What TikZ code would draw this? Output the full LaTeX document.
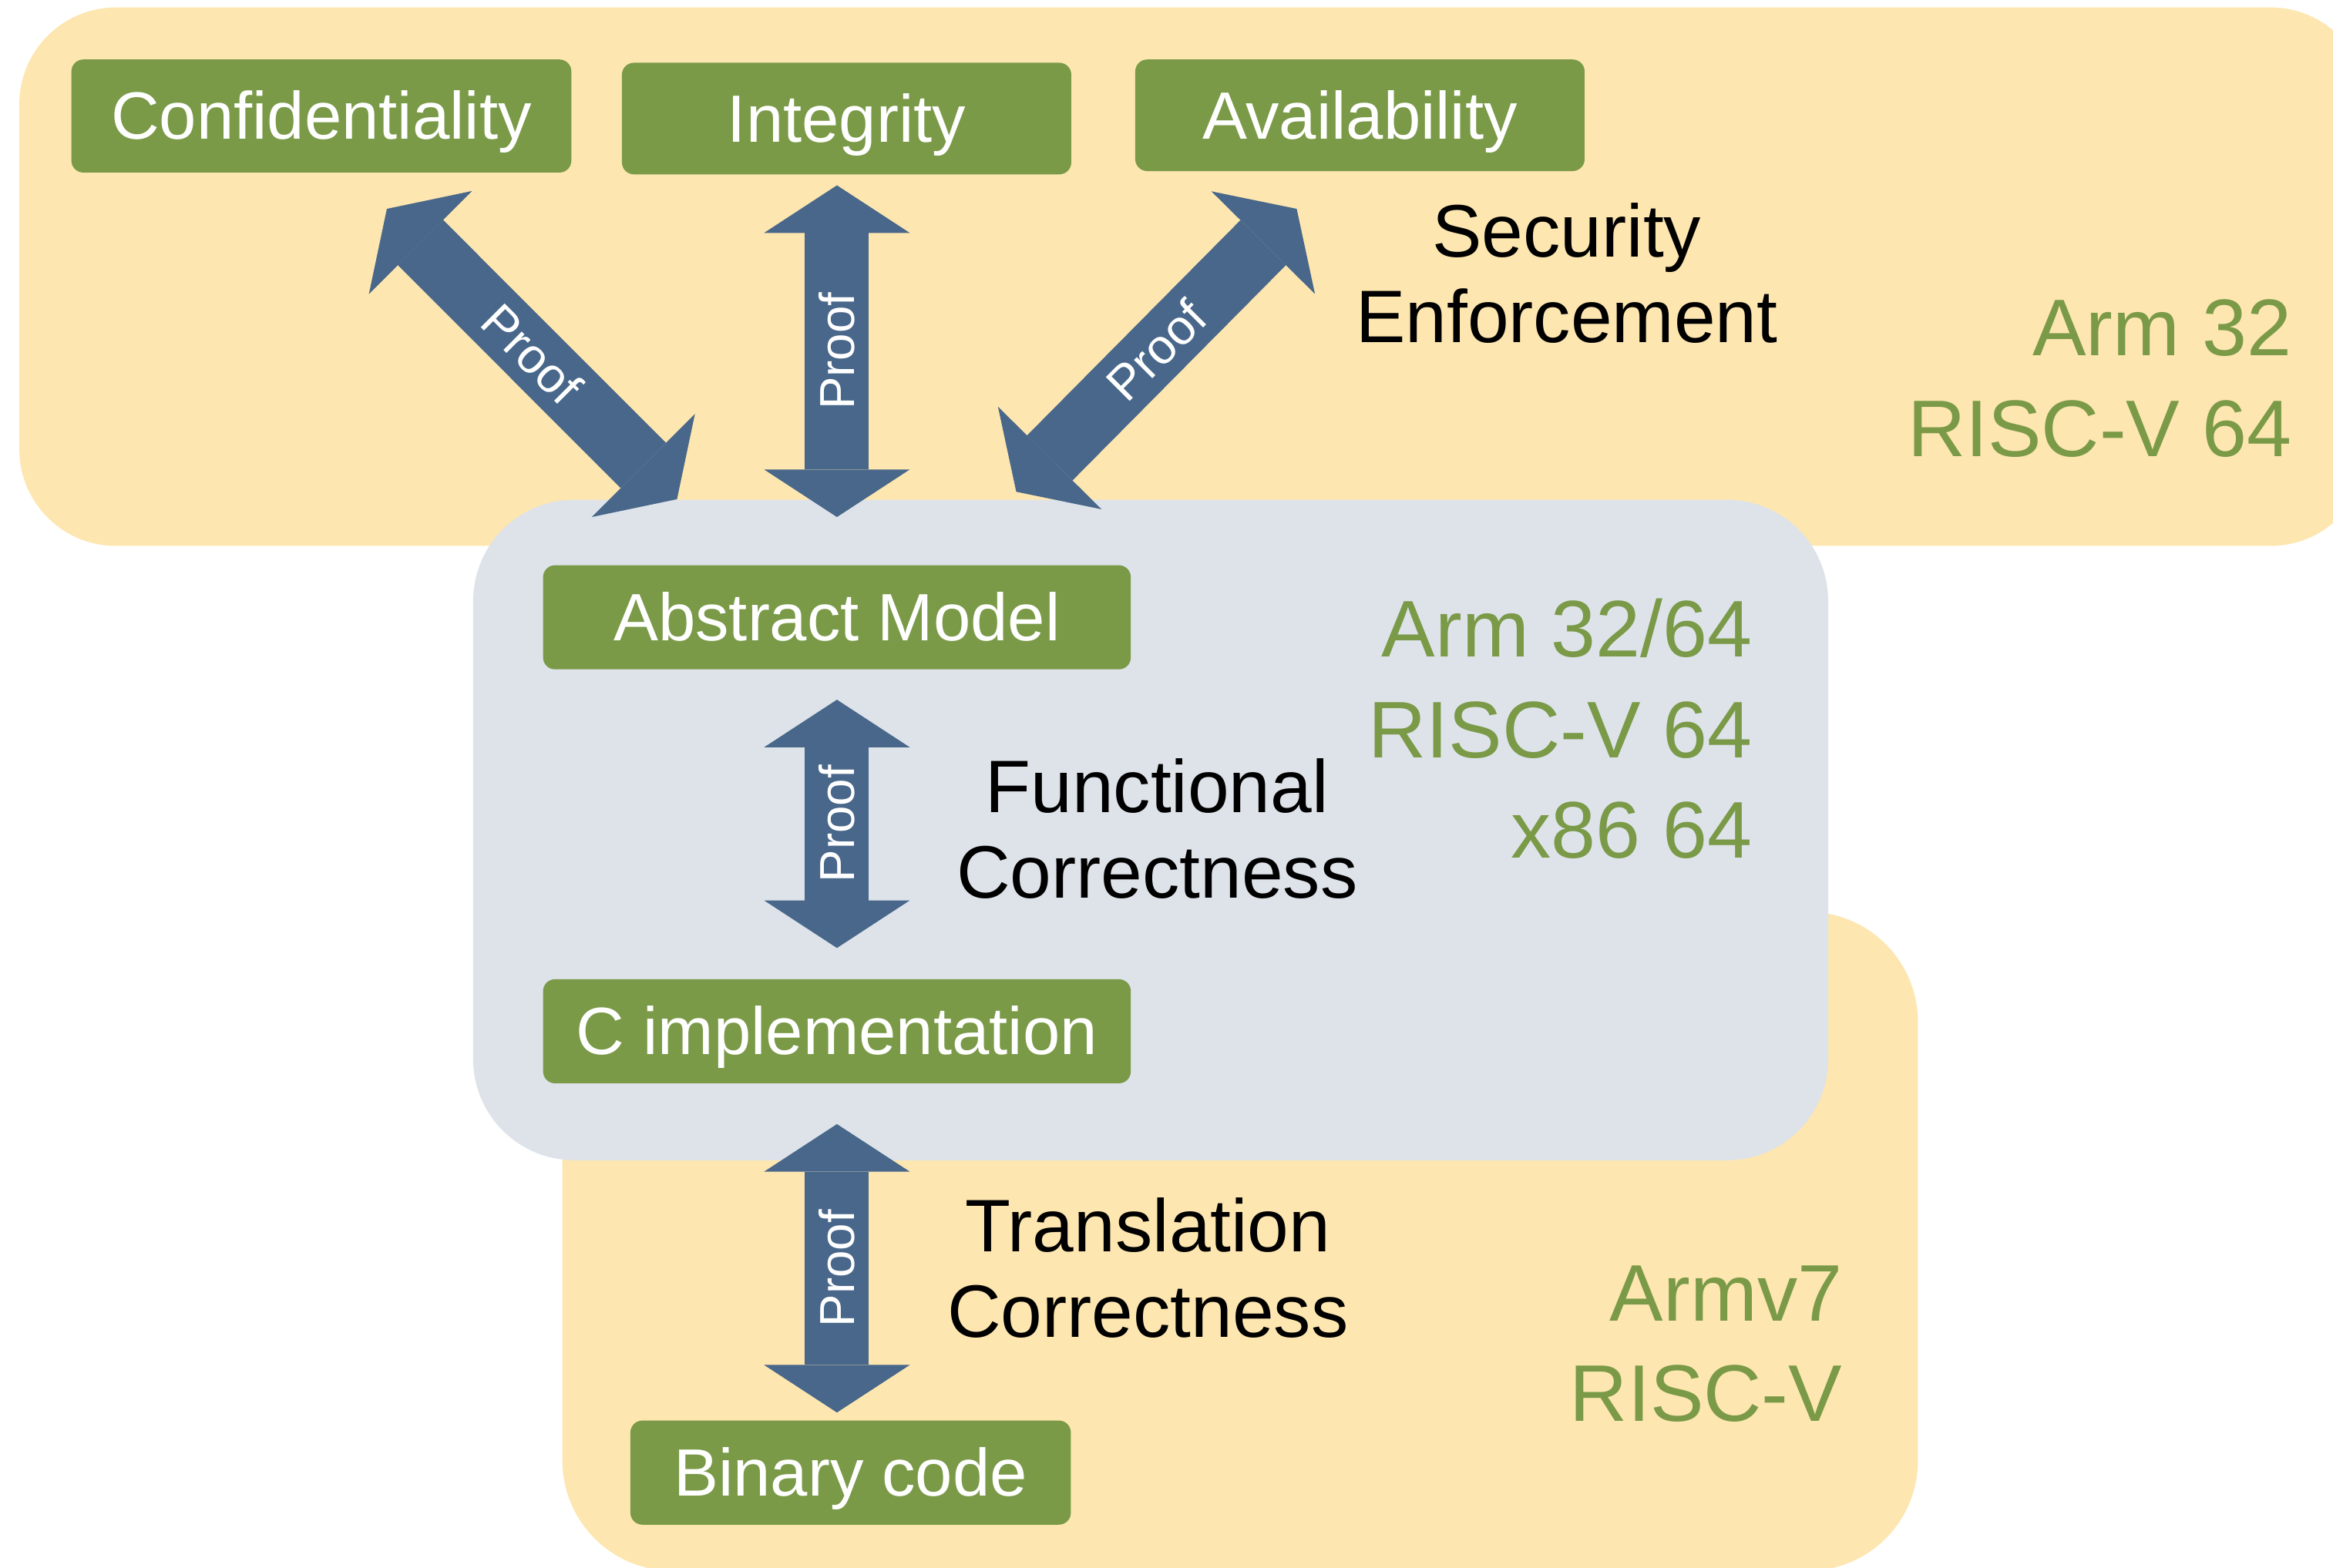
\documentclass[tikz,border=0pt]{standalone}
\usepackage{fontspec}
\setmainfont{Liberation Sans}
\usetikzlibrary{arrows.meta,calc}

\definecolor{regionyellow}{HTML}{FDE6B0}
\definecolor{regiongray}{HTML}{DEE3EA}
\definecolor{boxgreen}{HTML}{7A9A48}
\definecolor{proofblue}{HTML}{48678A}

\tikzset{
  greenbox/.style={fill=boxgreen, rounded corners=4pt, text=white, inner sep=0pt,
    font=\fontsize{22.5}{27}\selectfont, text height=15.75pt, text depth=0pt},
  prooftip/.tip={Triangle[length=16pt,width=49pt,line width=0pt]},
  proofarrow/.style={draw=proofblue, line width=21.5pt, prooftip-prooftip},
  prooflabel/.style={text=white, inner sep=0pt, font=\fontsize{16.5}{19}\selectfont},
  steplabel/.style={inner sep=0pt, align=center, font=\fontsize{25}{28.75}\selectfont},
  archlabel/.style={text=boxgreen, inner sep=0pt, align=right, font=\fontsize{27}{33.75}\selectfont},
}

\begin{document}
\begin{tikzpicture}[x=0.5pt,y=0.5pt,yscale=-1,xscale=1]
\useasboundingbox (0,0) rectangle (1568,1054);

%Rounded Rect: security region
\fill[regionyellow, rounded corners=32.5pt] (13,5) rectangle (1591,367);
%Rounded Rect: translation region
\fill[regionyellow, rounded corners=37pt] (378,613) rectangle (1289,1056);
%Rounded Rect: functional region
\fill[regiongray, rounded corners=34pt] (318,336) rectangle (1228.7,780);

% Green boxes
\node[greenbox, minimum width=168pt, minimum height=38pt] (conf) at (216,78) {Confidentiality};
\node[greenbox, minimum width=151pt, minimum height=37.5pt] (integ) at (569,79.7) {Integrity};
\node[greenbox, minimum width=151pt, minimum height=37.5pt] (avail) at (914,77.5) {Availability};
\node[greenbox, minimum width=197.5pt, minimum height=35pt] (absm) at (562.5,415) {Abstract Model};
\node[greenbox, minimum width=197.5pt, minimum height=35pt] (cimpl) at (562.5,693.3) {C implementation};
\node[greenbox, minimum width=148pt, minimum height=35pt] (bincode) at (571.7,990) {Binary code};

%Shape: Proof arrows
\draw[proofarrow] ($(conf.south)+(44,24)$) -- ($(absm.north)+(-107.5,-44)$)
  node[prooflabel, midway, rotate=-45] {Proof};
\draw[proofarrow] ($(absm.north)+(0,-32)$) -- ($(integ.south -| absm.north)+(0,7)$)
  node[prooflabel, midway, rotate=90] {Proof};
\draw[proofarrow] ($(absm.north)+(120.5,-49)$) -- ($(avail.south)+(-42.5,25)$)
  node[prooflabel, midway, rotate=45] {Proof};
\draw[proofarrow] ($(cimpl.north)+(0,-20.6)$) -- ($(absm.south)+(0,20)$)
  node[prooflabel, midway, rotate=90] {Proof};
\draw[proofarrow] ($(bincode.north -| cimpl.south)+(0,-5)$) -- ($(cimpl.south)+(0,27)$)
  node[prooflabel, midway, rotate=90] {Proof};

% Text Node
\node[steplabel, anchor=base] (secenf) at (1053,230) {Security\\Enforcement};
% Text Node
\node[steplabel, anchor=base] (funcorr) at (777.6,603.5) {Functional\\Correctness};
% Text Node
\node[steplabel, anchor=base] (transcorr) at (771.5,899) {Translation\\Correctness};
% Text Node
\node[archlabel, anchor=base east] (archsec) at (1540.6,306.8) {Arm 32\\RISC-V 64};
% Text Node
\node[archlabel, anchor=base east] (archfun) at (1178.2,576.8) {Arm 32/64\\RISC-V 64\\x86 64};
% Text Node
\node[archlabel, anchor=base east] (archtrans) at (1238.5,955.6) {Armv7\\RISC-V};

\end{tikzpicture}
\end{document}
